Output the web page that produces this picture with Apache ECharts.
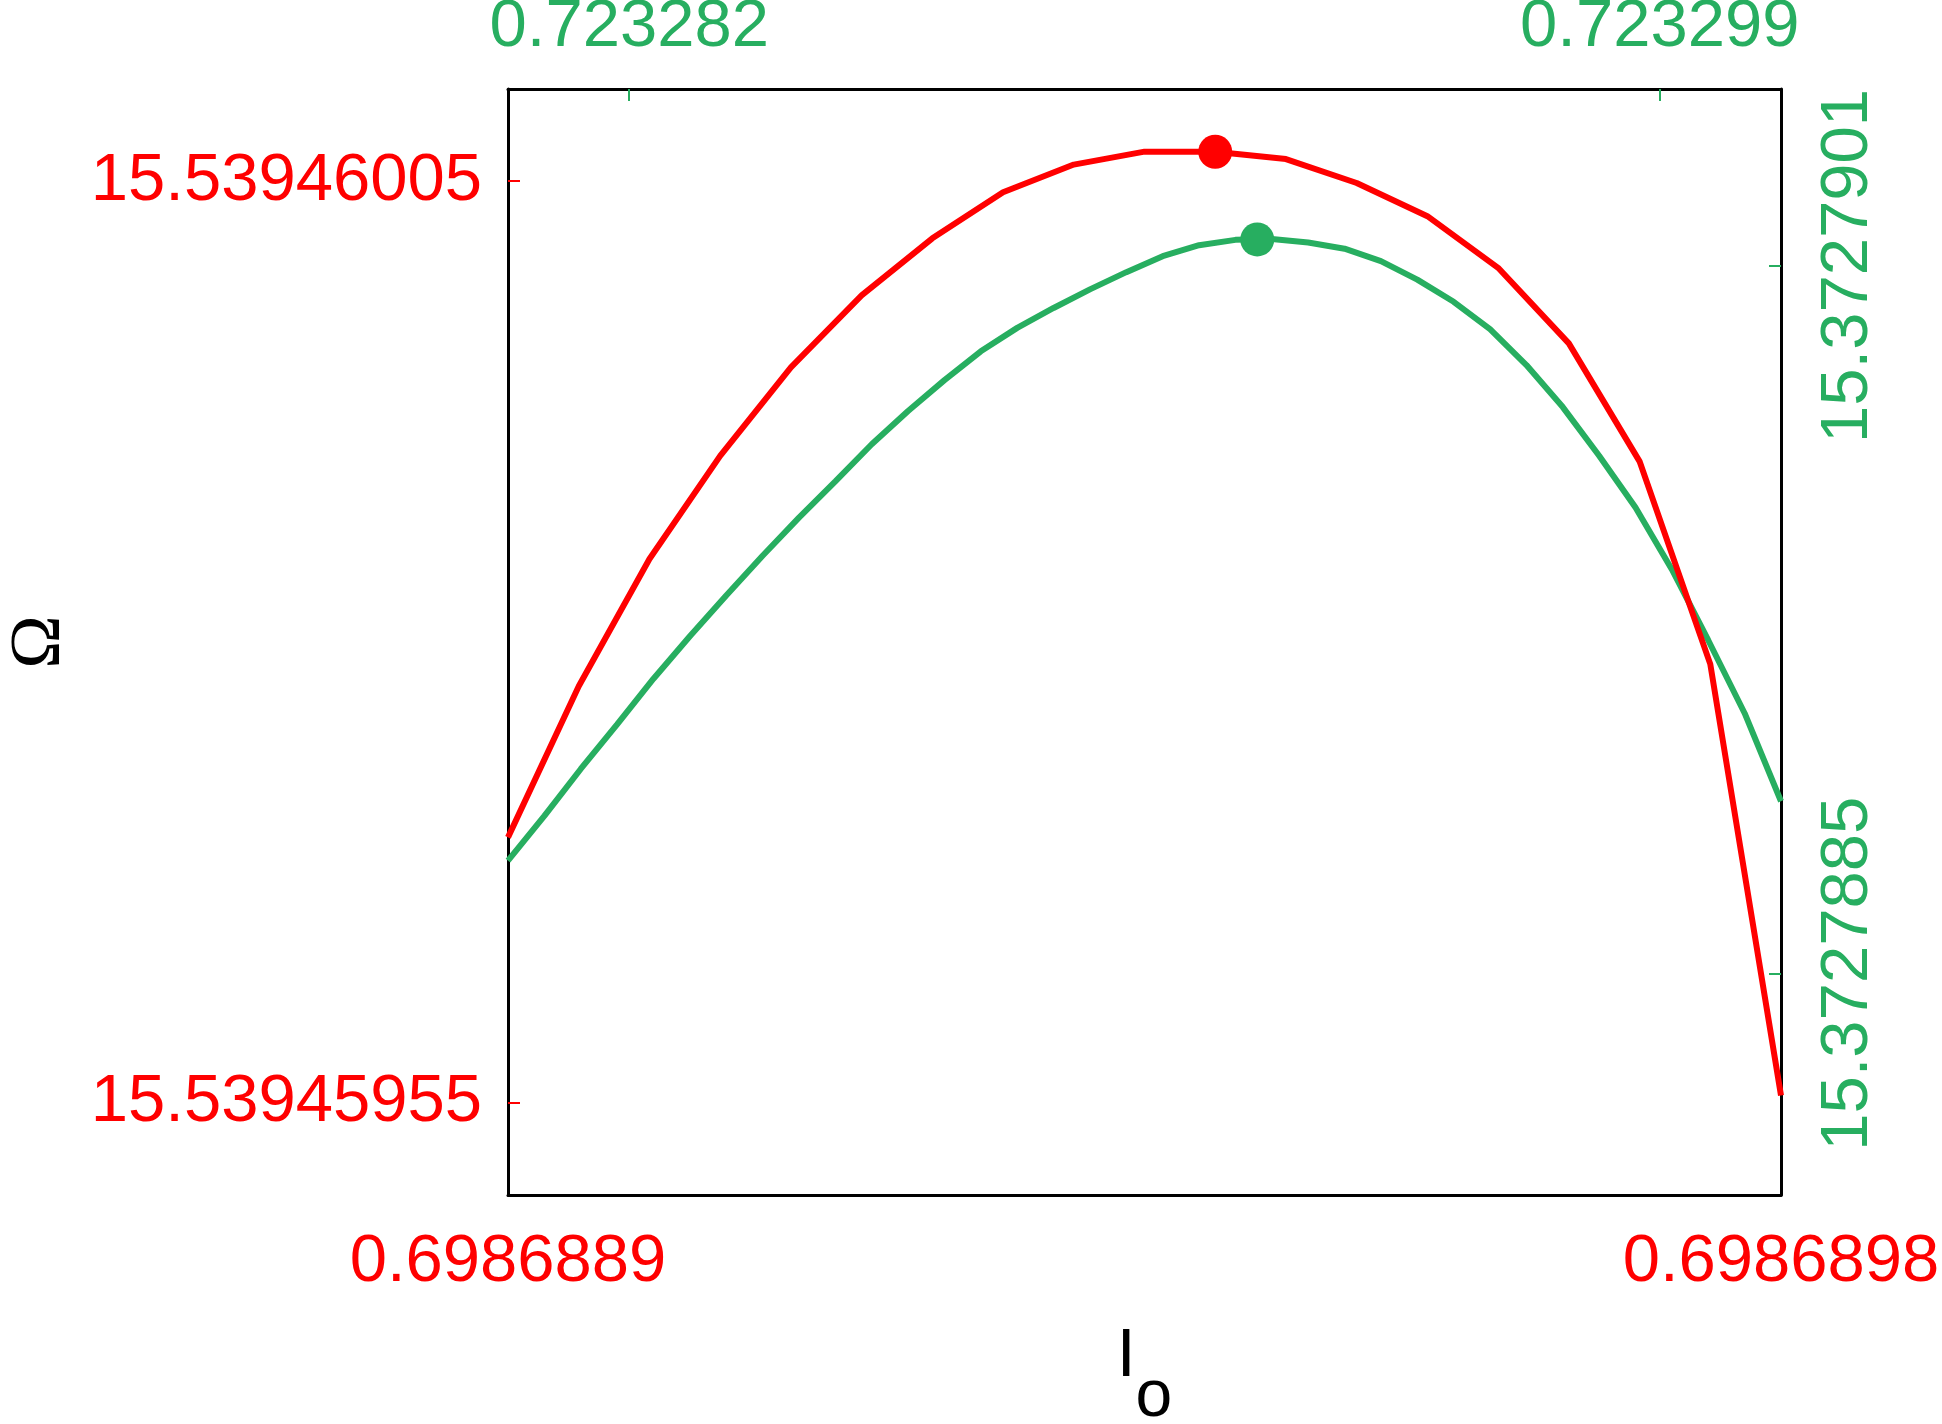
<!DOCTYPE html>
<html>
<head>
<meta charset="utf-8">
<title>Omega vs I_o</title>
<script src="https://cdn.jsdelivr.net/npm/echarts@6/dist/echarts.min.js"></script>
<style>
  html, body { margin: 0; padding: 0; background: #fff; }
  #omega-map { width: 1942px; height: 1424px; }
</style>
</head>
<body>
<div id="omega-map"></div>
<script>
// red curve: bottom / left axes
var redX = [0.69868890, 0.69868895, 0.69868900, 0.69868905, 0.69868910, 0.69868915, 0.69868920,
    0.69868925, 0.69868930, 0.69868935, 0.69868940, 0.69868945, 0.69868950, 0.69868955,
    0.69868960, 0.69868965, 0.69868970, 0.69868975, 0.69868980];
var redY = [15.539459694, 15.539459776, 15.539459845, 15.539459901, 15.539459949, 15.539459988,
    15.539460019, 15.539460044, 15.539460059, 15.539460066, 15.539460066, 15.539460062,
    15.539460049, 15.539460031, 15.539460003, 15.539459962, 15.539459898, 15.539459788,
    15.539459554];
var redPeak = [0.6986894, 15.539460066];

// green curve: top / right axes
var greenX = [0.7232800, 0.7232806, 0.7232812, 0.7232818, 0.7232824, 0.7232830, 0.7232836,
    0.7232842, 0.7232848, 0.7232854, 0.7232860, 0.7232866, 0.7232872, 0.7232878, 0.7232884,
    0.7232890, 0.7232896, 0.7232902, 0.7232908, 0.7232914, 0.7232920, 0.7232926, 0.7232932,
    0.7232938, 0.7232944, 0.7232950, 0.7232956, 0.7232962, 0.7232968, 0.7232974, 0.7232980,
    0.7232986, 0.7232992, 0.7232998, 0.7233004, 0.7233010];
var greenY = [15.372788756, 15.372788857, 15.372788963, 15.372789064, 15.372789167, 15.372789263,
    15.372789355, 15.372789445, 15.372789531, 15.372789613, 15.372789697, 15.372789772,
    15.372789842, 15.372789907, 15.372789960, 15.372790005, 15.372790047, 15.372790086,
    15.372790122, 15.372790147, 15.372790159, 15.372790161, 15.372790153, 15.372790139,
    15.372790111, 15.372790069, 15.372790019, 15.372789957, 15.372789876, 15.372789781,
    15.372789671, 15.372789554, 15.372789414, 15.372789254, 15.372789089, 15.372788890];
var greenPeak = [0.72329236, 15.37279016];

// tick labels
var redXTicks = [0.6986889, 0.6986898];
var redYTicks = [15.53945955, 15.53946005];
var greenXTicks = [0.723282, 0.723299];
var greenYTicks = [15.3727885, 15.3727901];

var RED = '#ff0000';
var GREEN = '#27ae60';
var FONT = "'Liberation Sans', Arial, sans-serif";

var chart = echarts.init(document.getElementById('omega-map'));

var redData = [];
for (var i = 0; i < redX.length; i++) {
    redData.push([redX[i], redY[i]]);
}
var greenData = [];
for (var j = 0; j < greenX.length; j++) {
    greenData.push([greenX[j], greenY[j]]);
}

function axisStyle(color, ticks, digits) {
    return {
        axisLine: { show: true, lineStyle: { color: '#000', width: 3 } },
        axisTick: {
            show: true, inside: true, length: 12, customValues: ticks,
            lineStyle: { color: color, width: 2 }
        },
        axisLabel: {
            customValues: ticks,
            color: color, fontSize: 67, fontFamily: FONT,
            formatter: function (v) { return Number(v).toFixed(digits); }
        },
        splitLine: { show: false }
    };
}

var xBottom = axisStyle(RED, redXTicks, 7);
xBottom.type = 'value';
xBottom.position = 'bottom';
xBottom.min = 0.6986889;
xBottom.max = 0.6986898;
xBottom.axisTick.show = false;
xBottom.axisLabel.margin = 34;
xBottom.name = '{a|I}{b|o}';
xBottom.nameLocation = 'middle';
xBottom.nameGap = 128;
xBottom.nameTextStyle = {
    rich: {
        a: { fontSize: 68, fontFamily: FONT, color: '#000', lineHeight: 68, verticalAlign: 'top' },
        b: { fontSize: 66, fontFamily: FONT, color: '#000', lineHeight: 150, verticalAlign: 'middle' }
    }
};

var xTop = axisStyle(GREEN, greenXTicks, 6);
xTop.type = 'value';
xTop.position = 'top';
xTop.min = 0.723280;
xTop.max = 0.723301;
xTop.axisLabel.margin = 28;

var yLeft = axisStyle(RED, redYTicks, 8);
yLeft.type = 'value';
yLeft.position = 'left';
yLeft.min = 15.5394595;
yLeft.max = 15.5394601;
yLeft.axisLabel.margin = 26;
yLeft.name = 'Ω';
yLeft.nameLocation = 'middle';
yLeft.nameGap = 432;
yLeft.nameTextStyle = { fontSize: 72, fontFamily: "'Liberation Serif', 'DejaVu Serif', serif", color: '#000' };

var yRight = axisStyle(GREEN, greenYTicks, 7);
yRight.type = 'value';
yRight.position = 'right';
yRight.min = 15.3727880;
yRight.max = 15.3727905;
yRight.axisLabel.margin = 34;
yRight.axisLabel.rotate = 90;

var option = {
    animation: false,
    backgroundColor: '#fff',
    grid: {
        left: 508, right: 161, top: 89, bottom: 229,
        containLabel: false, outerBoundsMode: 'none'
    },
    xAxis: [xBottom, xTop],
    yAxis: [yLeft, yRight],
    series: [
        {
            type: 'line', xAxisIndex: 1, yAxisIndex: 1,
            data: greenData, showSymbol: false,
            lineStyle: { color: GREEN, width: 6 }, z: 2
        },
        {
            type: 'line', xAxisIndex: 0, yAxisIndex: 0,
            data: redData, showSymbol: false,
            lineStyle: { color: RED, width: 6 }, z: 3
        },
        {
            type: 'scatter', xAxisIndex: 1, yAxisIndex: 1,
            data: [greenPeak], symbolSize: 34,
            itemStyle: { color: GREEN, opacity: 1 }, z: 4
        },
        {
            type: 'scatter', xAxisIndex: 0, yAxisIndex: 0,
            data: [redPeak], symbolSize: 34,
            itemStyle: { color: RED, opacity: 1 }, z: 4
        }
    ]
};
chart.setOption(option);
</script>
</body>
</html>
